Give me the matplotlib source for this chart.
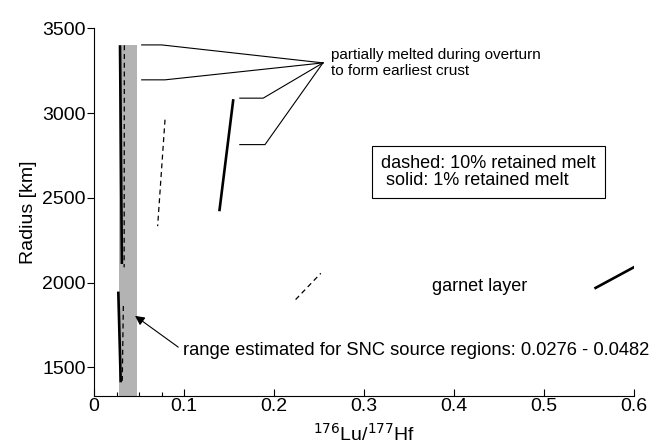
import numpy as np
import matplotlib
matplotlib.use('Agg')
import matplotlib.pyplot as plt

plt.rcParams['font.family'] = ['Liberation Sans', 'DejaVu Sans']

#%%
"""Data read off the figure"""
# solid: 1% retained melt, dashed: 10% retained melt (start/end of each segment)
solid_x = [[0.0289, 0.0310], [0.0270, 0.0297], [0.1548, 0.1393], [0.556, 0.601]]
solid_r = [[3400, 2110], [1947, 1412], [3082, 2421], [1965, 2094]]
dashed_x = [[0.0337, 0.0335], [0.0326, 0.0314], [0.0789, 0.0707], [0.224, 0.252]]
dashed_r = [[3400, 2090], [1862, 1421], [2961, 2333], [1900, 2055]]

snc_range = [0.0276, 0.0482]
band_top = 3400

# bracket lines pointing to the "partially melted" note
bracket_x = [[0.053, 0.0752, 0.2544], [0.053, 0.0789, 0.2544],
             [0.162, 0.188, 0.2544], [0.162, 0.190, 0.2544]]
bracket_r = [[3402, 3402, 3296], [3196, 3196, 3296],
             [3088, 3088, 3296], [2814, 2814, 3296]]

xticks = [0, 0.1, 0.2, 0.3, 0.4, 0.5, 0.6]
xticklabels = ['0', '0.1', '0.2', '0.3', '0.4', '0.5', '0.6']
yticks = [1500, 2000, 2500, 3000, 3500]

#%%
"""Plotting"""
fig = plt.figure(figsize=(6.61, 4.48), dpi=100)
ax = fig.add_axes([94/661, 52.3/448, 540/661, 367.4/448])

ymin = 1333
ax.fill_betweenx([ymin, band_top], snc_range[0], snc_range[1],
                 color='#b3b3b3', lw=0, zorder=1)

for xs, rs in zip(solid_x, solid_r):
    ax.plot(xs, rs, color='black', lw=1.9, solid_capstyle='butt', zorder=3)
for xs, rs in zip(dashed_x, dashed_r):
    ax.plot(xs, rs, color='black', lw=0.9, dashes=(4, 3), zorder=3)
for xs, rs in zip(bracket_x, bracket_r):
    ax.plot(xs, rs, color='black', lw=0.8, zorder=3)

ax.text(0.263, 3296, 'partially melted during overturn\nto form earliest crust',
        fontsize=11, va='center', ha='left', linespacing=1.18)

ax.text(0.3189, 2652, 'dashed: 10% retained melt\n solid: 1% retained melt',
        fontsize=13, va='center', ha='left', linespacing=1.05,
        bbox=dict(boxstyle='square,pad=0.5', fc='white', ec='black', lw=0.8))

ax.text(0.375, 1980, 'garnet layer', fontsize=13, va='center', ha='left')

ax.annotate('range estimated for SNC source regions: 0.0276 - 0.0482',
            xy=(0.0456, 1804), xytext=(0.0992, 1598),
            fontsize=13.2, va='center', ha='left',
            arrowprops=dict(arrowstyle='-|>', color='black', lw=0.8,
                            mutation_scale=14, shrinkA=2, shrinkB=0,
                            relpos=(0, 0.5)))

ax.set_xlim(0, 0.6)
ax.set_ylim(ymin, 3500)
ax.set_xticks(xticks)
ax.set_xticklabels(xticklabels)
ax.set_xticks([0.025, 0.05, 0.075], minor=True)
ax.set_yticks(yticks)
ax.tick_params(axis='x', which='major', direction='in', length=5, width=0.8,
               labelsize=14, pad=2)
ax.tick_params(axis='x', which='minor', direction='in', length=3, width=0.8)
ax.tick_params(axis='y', direction='out', length=5, width=0.8, labelsize=14, pad=1)

ax.spines['top'].set_visible(False)
ax.spines['right'].set_visible(False)
ax.spines['left'].set_linewidth(0.8)
ax.spines['bottom'].set_linewidth(0.8)

ax.set_xlabel(r'$^{176}$Lu/$^{177}$Hf', fontsize=14, labelpad=5)
ax.set_ylabel('Radius [km]', fontsize=14, labelpad=4)

fig.savefig('out.png', dpi=100)
